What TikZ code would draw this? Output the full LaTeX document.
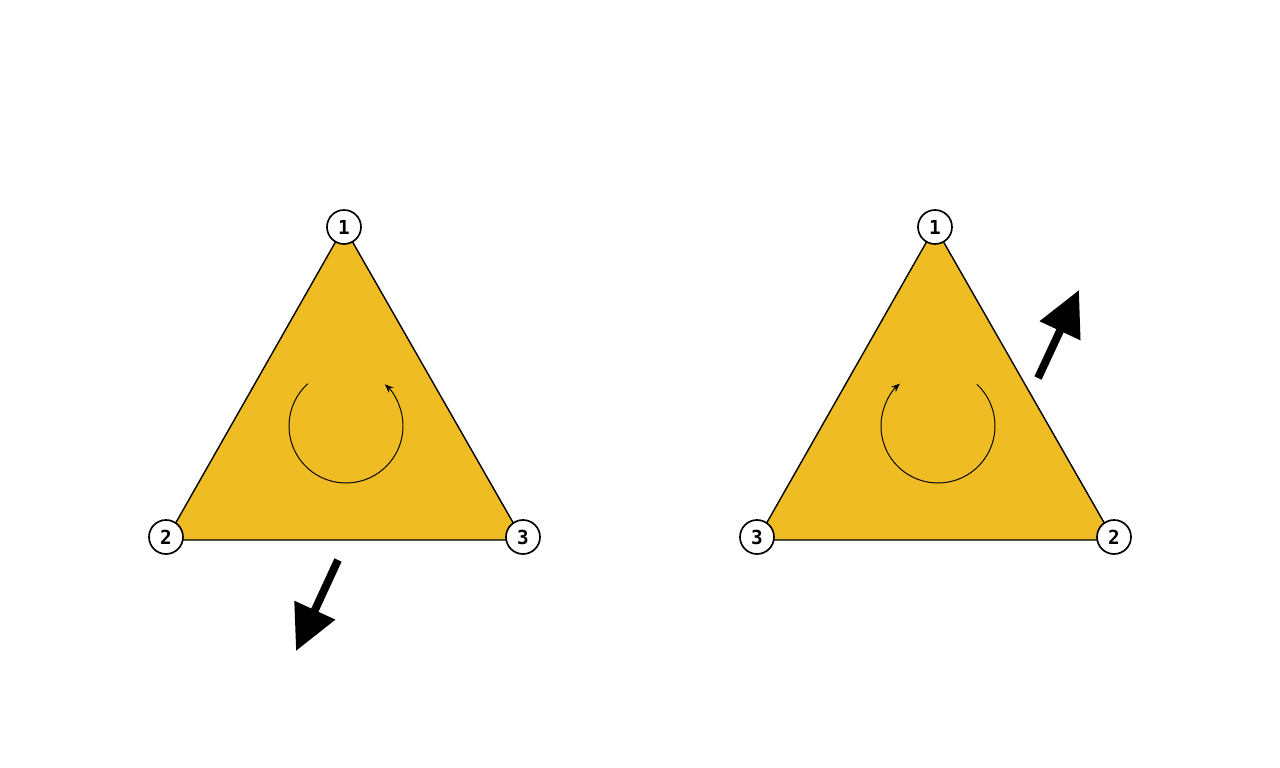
\documentclass[tikz,border=0pt]{standalone}
\usepackage{fontspec}
\usepackage{xcolor}
\usepackage{tikz}
\usetikzlibrary{arrows.meta}
\newfontfamily\digitfont{DejaVu Sans Mono}
\definecolor{FaceGold}{RGB}{239,188,36}
\tikzset{
  face/.style={fill=FaceGold, draw=black, line width=0.8pt, line join=miter},
  vtx/.style={circle, draw=black, fill=white, line width=0.95pt, minimum size=0.68cm,
    inner sep=0pt, font=\digitfont\bfseries\fontsize{11}{13}\selectfont},
  spin/.style={-{Stealth[length=5pt, width=4pt]}, line width=0.55pt},
  push/.style={-{Triangle[length=0.9cm, width=0.86cm]}, line width=4.5pt},
}
\begin{document}
\begin{tikzpicture}
  \useasboundingbox (0,0) rectangle (25.6,-15.36);
  % left face
  \fill[face] (6.88,-4.54) -- (3.32,-10.8) -- (10.46,-10.8) -- cycle;
  \draw[spin] (6.92,-8.52) ++(132:1.14) arc[start angle=132, end angle=407, radius=1.14];
  \node[vtx] (l1) at (6.88,-4.54) {1};
  \node[vtx] (l2) at (3.32,-10.74) {2};
  \node[vtx] (l3) at (10.46,-10.74) {3};
  \coordinate (lfrom) at (6.76,-11.2);
  \coordinate (lto) at (5.92,-13.02);
  \draw[push] (lfrom) -- (lto);
  % right face
  \fill[face] (18.7,-4.54) -- (15.14,-10.8) -- (22.28,-10.8) -- cycle;
  \draw[spin] (18.76,-8.52) ++(47:1.14) arc[start angle=47, end angle=-228, radius=1.14];
  \node[vtx] (r1) at (18.7,-4.54) {1};
  \node[vtx] (r3) at (15.14,-10.74) {3};
  \node[vtx] (r2) at (22.28,-10.74) {2};
  \coordinate (rfrom) at (20.76,-7.56);
  \coordinate (rto) at (21.58,-5.8);
  \draw[push] (rfrom) -- (rto);
\end{tikzpicture}
\end{document}
